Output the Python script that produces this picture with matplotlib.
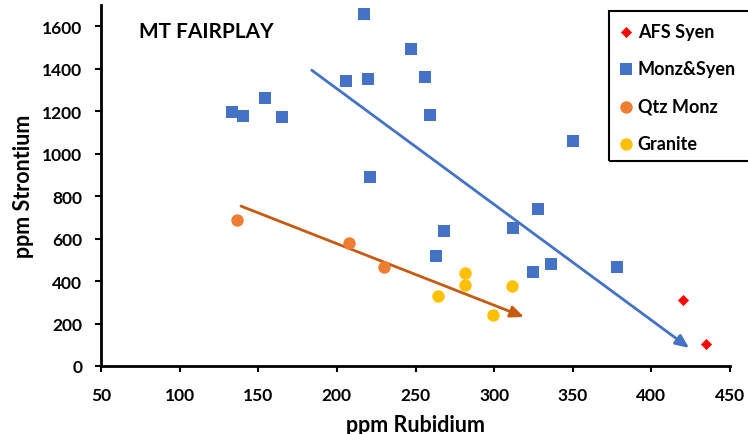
import matplotlib
matplotlib.use("Agg")
import matplotlib.pyplot as plt
from matplotlib.patches import Rectangle

plt.rcParams['font.family'] = ['Lato', 'DejaVu Sans']
plt.rcParams['font.weight'] = 'bold'

afs_rb = [420, 435]
afs_sr = [311, 103]

monz_rb = [133, 140, 154, 165, 206, 217, 220, 221, 247, 256, 259, 350, 268, 263, 312, 328, 325, 336, 378]
monz_sr = [1195, 1176, 1261, 1172, 1341, 1656, 1350, 889, 1492, 1360, 1181, 1059, 635, 518, 649, 739, 442, 480, 466]

qtz_rb = [136.5, 208, 230]
qtz_sr = [687, 579, 466]

gran_rb = [264, 281.6, 281.6, 299.5, 311.5]
gran_sr = [329, 438, 381, 240, 377]

blue_arrow = [(184, 1393), (424, 85)]
orange_arrow = [(139, 753), (319, 231)]

W, H = 748, 435
fig = plt.figure(figsize=(W / 100, H / 100), dpi=100)
ax = fig.add_axes([101 / W, 1 - 367 / H, 629 / W, 361 / H])

ax.scatter(afs_rb, afs_sr, marker='D', s=32, color='#FF0000', label='AFS Syen', zorder=3, linewidths=0)
ax.scatter(monz_rb, monz_sr, marker='s', s=80, color='#4472C4', label='Monz&Syen', zorder=3, linewidths=0)
ax.scatter(qtz_rb, qtz_sr, marker='o', s=80, color='#ED7D31', label='Qtz Monz', zorder=3, linewidths=0)
ax.scatter(gran_rb, gran_sr, marker='o', s=80, color='#FFC000', label='Granite', zorder=3, linewidths=0)

ax.annotate('', xy=blue_arrow[1], xytext=blue_arrow[0],
            arrowprops=dict(arrowstyle='-|>,head_length=0.8,head_width=0.35', color='#4472C4', lw=2,
                            shrinkA=0, shrinkB=0), zorder=2)
ax.annotate('', xy=orange_arrow[1], xytext=orange_arrow[0],
            arrowprops=dict(arrowstyle='-|>,head_length=0.8,head_width=0.35', color='#C55A11', lw=2,
                            shrinkA=0, shrinkB=0), zorder=2)

ax.set_xlim(50, 450)
ax.set_ylim(0, 1700)
ax.set_xticks(range(50, 451, 50))
ax.set_yticks(range(0, 1601, 200))
for s in ['top', 'right']:
    ax.spines[s].set_visible(False)
for s in ['left', 'bottom']:
    ax.spines[s].set_linewidth(2)
    ax.spines[s].set_color('black')
ax.tick_params(axis='both', which='major', labelsize=12.5, width=1.5, length=4.5, direction='out', colors='black')
ax.tick_params(axis='x', pad=10.5)
ax.tick_params(axis='y', pad=9)
for lab in ax.get_xticklabels() + ax.get_yticklabels():
    lab.set_fontweight('bold')

ax.set_xlabel('ppm Rubidium', fontsize=15.5, fontweight='bold', labelpad=8)
ax.set_ylabel('ppm Strontium', fontsize=15.5, fontweight='bold', labelpad=6)

fig.text(139 / W, 1 - 32 / H, 'MT FAIRPLAY', fontsize=15, fontweight='bold', color='black', va='center', ha='left')

fig.patches.append(Rectangle((609 / W, 1 - 162 / H), 160 / W, 150 / H, transform=fig.transFigure,
                             fill=False, edgecolor='black', linewidth=1.5, clip_on=False))

leg = fig.legend(loc='upper left', bbox_to_anchor=(617 / W, 1 - 24 / H), frameon=False,
                 labelspacing=1.12, handletextpad=0.15, handlelength=1.0, borderpad=0,
                 borderaxespad=0, scatterpoints=1, markerscale=1.0,
                 prop={'weight': 'bold', 'size': 13})

fig.savefig('out.png', dpi=100)
